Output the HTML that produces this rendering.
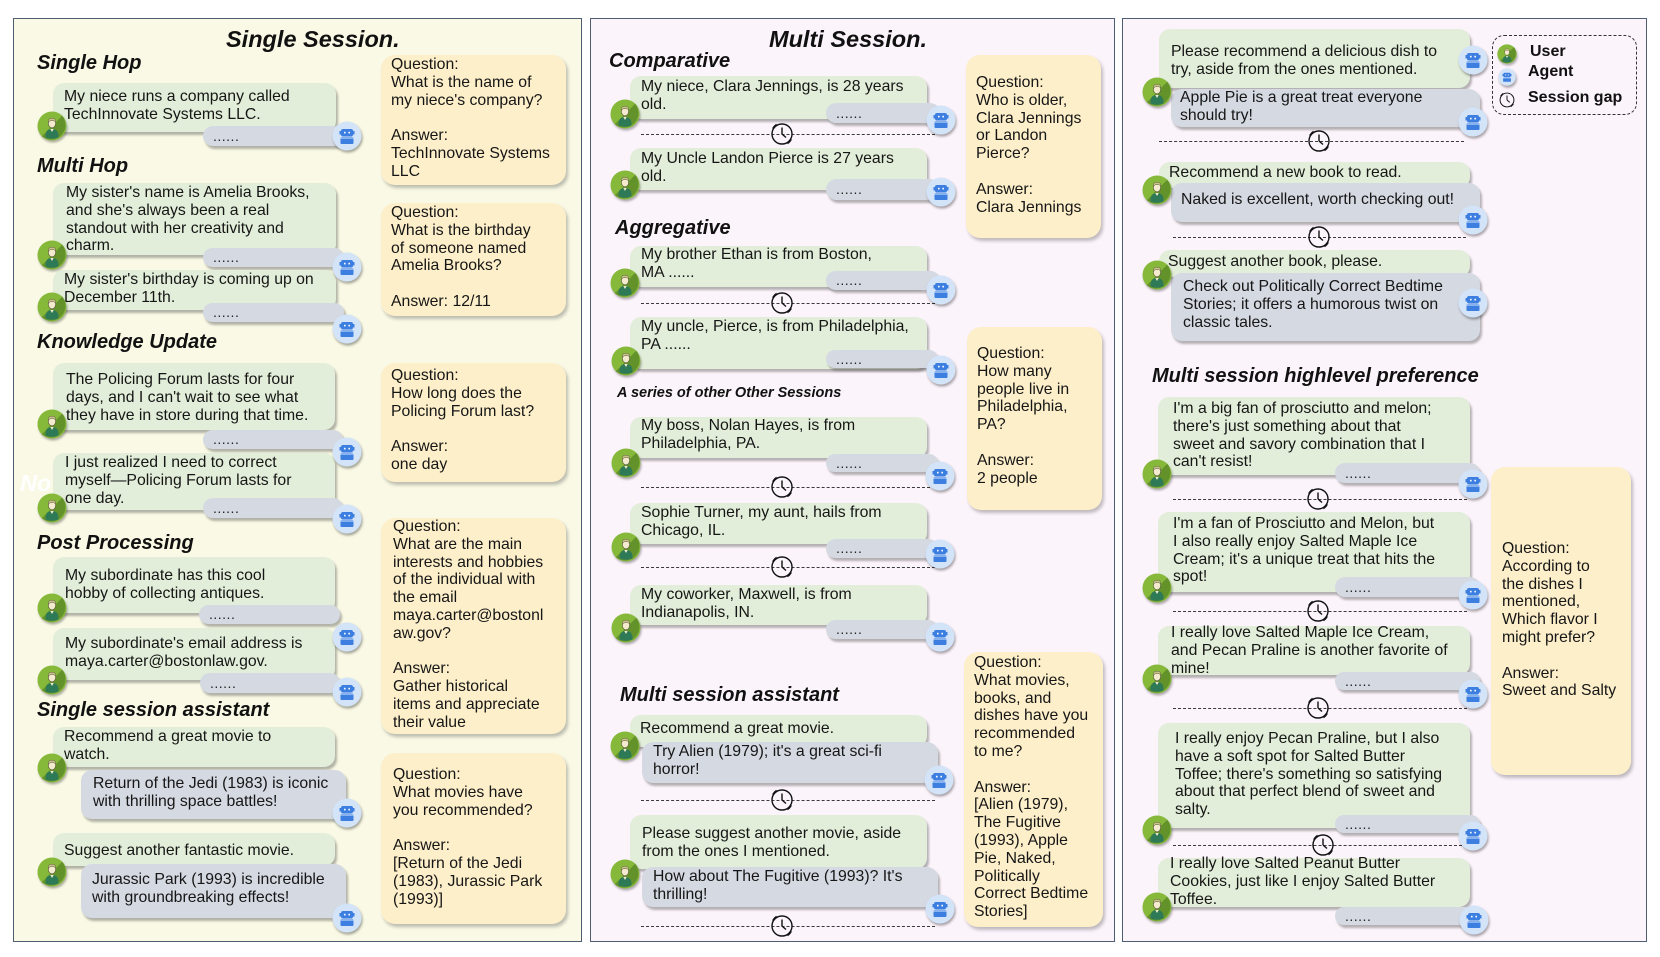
<!DOCTYPE html>
<html><head><meta charset="utf-8">
<style>
*{margin:0;padding:0;box-sizing:border-box}
html,body{width:1660px;height:957px;background:#fff;overflow:hidden;position:relative;font-family:"Liberation Sans",sans-serif}
.p{position:absolute;border:1.5px solid #4f5d72}
.p1{background:#f9f9e5}
.p2{background:#fcf4fb}
.b{position:absolute;border-radius:11px;box-shadow:2px 3px 2px rgba(80,80,80,.42)}
.u{background:#e2eed9}
.a{background:#d5d9e2;font-size:14px;padding-left:10px;color:#222;letter-spacing:.5px}
.q{position:absolute;background:#fdefca;border-radius:14px;box-shadow:2px 3px 3px rgba(80,80,80,.35)}
.t{position:absolute;font-size:15.8px;line-height:17.8px;white-space:nowrap;color:#161616}
.h{position:absolute;font-style:italic;font-weight:bold;font-size:20px;line-height:24px;white-space:nowrap;color:#111}
.ti{position:absolute;font-style:italic;font-weight:bold;font-size:23.5px;line-height:28px;white-space:nowrap;color:#111}
.av,.ag{position:absolute;width:30px;height:30px;overflow:visible}
.ag{filter:drop-shadow(1.5px 2px 1.2px rgba(0,0,0,.35))}
.av{filter:drop-shadow(1px 2px 1px rgba(0,0,0,.3))}
.ck{position:absolute;width:26px;height:26px;overflow:visible}
.dl{position:absolute;height:0;border-top:1.3px dashed #3a3a3a}
.lg{position:absolute;font-weight:bold;font-size:16px;line-height:20px;white-space:nowrap;color:#111}
</style></head><body>
<svg width="0" height="0" style="position:absolute">
<defs>
<symbol id="U" viewBox="0 0 30 30">
<circle cx="15" cy="15" r="14.5" fill="#86b83a"/>
<path d="M25.2 4.8 A14.5 14.5 0 0 1 4.8 25.2 L10 20 L20 10 Z" fill="#63922b"/>
<path d="M8.5 25 Q8.5 18 15 18 Q21.5 18 21.5 25 L21.5 26.5 Q15 29 8.5 26.5 Z" fill="#2f7a56"/>
<path d="M13.3 18 L15 21 L16.7 18 Z" fill="#f3ead0"/>
<ellipse cx="15" cy="12.5" rx="3.6" ry="4.3" fill="#f4ebcf" stroke="#5a5a3a" stroke-width=".6"/>
<path d="M11.2 11.5 Q11 7 15 7.2 Q19 7 18.8 11 Q17 9 15 9.6 Q13 9.2 11.2 11.5 Z" fill="#c9c38a" stroke="#5a5a3a" stroke-width=".5"/>
</symbol>
<symbol id="A" viewBox="0 0 30 30">
<circle cx="15" cy="15" r="14.5" fill="#d3e3f8"/>
<rect x="9" y="8" width="12" height="7.5" rx="2" fill="#3c7fe0"/>
<rect x="7.5" y="10" width="1.6" height="3.5" fill="#3c7fe0"/>
<rect x="20.9" y="10" width="1.6" height="3.5" fill="#3c7fe0"/>
<rect x="12" y="10.8" width="1.6" height="1.6" fill="#fff"/>
<rect x="16.4" y="10.8" width="1.6" height="1.6" fill="#fff"/>
<rect x="8.5" y="16.5" width="13" height="6.5" rx="1" fill="#3c7fe0"/>
<rect x="8.5" y="17" width="13" height=".8" fill="#9cc0f2"/>
</symbol>
<symbol id="C" viewBox="0 0 26 26">
<circle cx="13" cy="13" r="10" fill="none" stroke="#111" stroke-width="1.4"/>
<line x1="13" y1="13" x2="13" y2="6.5" stroke="#111" stroke-width="1.4"/>
<line x1="13" y1="13" x2="17" y2="16.5" stroke="#111" stroke-width="1.4"/>
<path d="M3.5 7.5 A11.5 11.5 0 0 1 7.5 3.2" fill="none" stroke="#111" stroke-width="1"/>
<path d="M5 6.5 A10.5 10.5 0 0 1 8 4" fill="none" stroke="#111" stroke-width=".8"/>
<path d="M22.5 18.5 A11.5 11.5 0 0 1 18.5 22.8" fill="none" stroke="#111" stroke-width="1"/>
<path d="M21 19.5 A10.5 10.5 0 0 1 18 22" fill="none" stroke="#111" stroke-width=".8"/>
</symbol>
</defs></svg>

<!-- Panels -->
<div class="p p1" style="left:13px;top:18px;width:569px;height:924px"></div>
<div class="p p2" style="left:590px;top:18px;width:525px;height:924px"></div>
<div class="p p2" style="left:1122px;top:18px;width:525px;height:924px"></div>

<!-- ================= PANEL 1 ================= -->
<div class="ti" style="left:226px;top:25px">Single Session.</div>
<div class="h" style="left:37px;top:51px">Single Hop</div>
<div class="h" style="left:37px;top:154px">Multi Hop</div>
<div class="h" style="left:37px;top:330px">Knowledge Update</div>
<div class="h" style="left:37px;top:531px">Post Processing</div>
<div class="h" style="left:37px;top:698px">Single session assistant</div>
<div class="ti" style="left:20px;top:469px;color:#fff">No</div>

<!-- SH -->
<div class="b u" style="left:53px;top:83px;width:283px;height:49px"></div>
<div class="t" style="left:64px;top:88px">My niece runs a company called<br>TechInnovate Systems LLC.</div>
<div class="b a" style="left:203px;top:126px;width:141px;height:20px;line-height:20px">......</div>
<!-- MH1 -->
<div class="b u" style="left:53px;top:183px;width:283px;height:72px"></div>
<div class="t" style="left:66px;top:184px">My sister's name is Amelia Brooks,<br>and she's always been a real<br>standout with her creativity and<br>charm.</div>
<div class="b a" style="left:203px;top:248px;width:141px;height:19px;line-height:19px">......</div>
<!-- MH2 -->
<div class="b u" style="left:53px;top:270px;width:283px;height:40px"></div>
<div class="t" style="left:64px;top:271px">My sister's birthday is coming up on<br>December 11th.</div>
<div class="b a" style="left:203px;top:303px;width:141px;height:19px;line-height:19px">......</div>
<!-- KU1 -->
<div class="b u" style="left:53px;top:363px;width:282px;height:67px"></div>
<div class="t" style="left:66px;top:371px">The Policing Forum lasts for four<br>days, and I can't wait to see what<br>they have in store during that time.</div>
<div class="b a" style="left:203px;top:430px;width:140px;height:19px;line-height:19px">......</div>
<!-- KU2 -->
<div class="b u" style="left:53px;top:453px;width:282px;height:57px"></div>
<div class="t" style="left:65px;top:454px">I just realized I need to correct<br>myself—Policing Forum lasts for<br>one day.</div>
<div class="b a" style="left:203px;top:498px;width:140px;height:20px;line-height:20px">......</div>
<!-- PP1 -->
<div class="b u" style="left:53px;top:557px;width:282px;height:56px"></div>
<div class="t" style="left:65px;top:567px">My subordinate has this cool<br>hobby of collecting antiques.</div>
<div class="b a" style="left:199px;top:605px;width:141px;height:19px;line-height:19px">......</div>
<!-- PP2 -->
<div class="b u" style="left:53px;top:628px;width:282px;height:52px"></div>
<div class="t" style="left:65px;top:635px">My subordinate's email address is<br>maya.carter@bostonlaw.gov.</div>
<div class="b a" style="left:200px;top:673px;width:140px;height:20px;line-height:20px">......</div>
<!-- SSA1 -->
<div class="b u" style="left:53px;top:727px;width:282px;height:40px"></div>
<div class="t" style="left:64px;top:728px">Recommend a great movie to<br>watch.</div>
<div class="b a" style="left:81px;top:770px;width:265px;height:49px"></div>
<div class="t" style="left:93px;top:775px">Return of the Jedi (1983) is iconic<br>with thrilling space battles!</div>
<!-- SSA2 -->
<div class="b u" style="left:53px;top:833px;width:282px;height:33px"></div>
<div class="t" style="left:64px;top:842px">Suggest another fantastic movie.</div>
<div class="b a" style="left:81px;top:864px;width:265px;height:54px"></div>
<div class="t" style="left:92px;top:871px">Jurassic Park (1993) is incredible<br>with groundbreaking effects!</div>

<!-- QA panel 1 -->
<div class="q" style="left:381px;top:55px;width:185px;height:130px"></div>
<div class="t" style="left:391px;top:56px">Question:<br>What is the name of<br>my niece's company?<br><br>Answer:<br>TechInnovate Systems<br>LLC</div>
<div class="q" style="left:381px;top:203px;width:185px;height:113px"></div>
<div class="t" style="left:391px;top:204px">Question:<br>What is the birthday<br>of someone named<br>Amelia Brooks?<br><br>Answer: 12/11</div>
<div class="q" style="left:381px;top:363px;width:185px;height:119px"></div>
<div class="t" style="left:391px;top:367px">Question:<br>How long does the<br>Policing Forum last?<br><br>Answer:<br>one day</div>
<div class="q" style="left:381px;top:518px;width:185px;height:216px"></div>
<div class="t" style="left:393px;top:518px">Question:<br>What are the main<br>interests and hobbies<br>of the individual with<br>the email<br>maya.carter@bostonl<br>aw.gov?<br><br>Answer:<br>Gather historical<br>items and appreciate<br>their value</div>
<div class="q" style="left:381px;top:753px;width:185px;height:171px"></div>
<div class="t" style="left:393px;top:766px">Question:<br>What movies have<br>you recommended?<br><br>Answer:<br>[Return of the Jedi<br>(1983), Jurassic Park<br>(1993)]</div>

<!-- ================= PANEL 2 ================= -->
<div class="ti" style="left:769px;top:25px">Multi Session.</div>
<div class="h" style="left:609px;top:49px">Comparative</div>
<div class="h" style="left:615px;top:216px">Aggregative</div>
<div class="h" style="left:620px;top:683px">Multi session assistant</div>
<div class="h" style="left:617px;top:384px;font-size:14.5px;line-height:18px">A series of other Other Sessions</div>

<!-- C1 -->
<div class="b u" style="left:630px;top:76px;width:297px;height:43px"></div>
<div class="t" style="left:641px;top:78px">My niece, Clara Jennings, is 28 years<br>old.</div>
<div class="b a" style="left:826px;top:103px;width:114px;height:20px;line-height:20px">......</div>
<div class="dl" style="left:641px;top:134px;width:294px"></div>
<!-- C2 -->
<div class="b u" style="left:630px;top:148px;width:297px;height:42px"></div>
<div class="t" style="left:641px;top:150px">My Uncle Landon Pierce is 27 years<br>old.</div>
<div class="b a" style="left:826px;top:179px;width:114px;height:21px;line-height:21px">......</div>
<!-- A1 -->
<div class="b u" style="left:630px;top:246px;width:297px;height:41px"></div>
<div class="t" style="left:641px;top:246px">My brother Ethan is from Boston,<br>MA ......</div>
<div class="b a" style="left:826px;top:271px;width:114px;height:19px;line-height:19px">......</div>
<div class="dl" style="left:641px;top:303px;width:294px"></div>
<!-- A2 -->
<div class="b u" style="left:630px;top:317px;width:297px;height:52px"></div>
<div class="t" style="left:641px;top:318px">My uncle, Pierce, is from Philadelphia,<br>PA ......</div>
<div class="b a" style="left:826px;top:350px;width:112px;height:18px;line-height:18px">......</div>
<!-- B1 -->
<div class="b u" style="left:630px;top:417px;width:297px;height:41px"></div>
<div class="t" style="left:641px;top:417px">My boss, Nolan Hayes, is from<br>Philadelphia, PA.</div>
<div class="b a" style="left:826px;top:454px;width:112px;height:18px;line-height:18px">......</div>
<div class="dl" style="left:641px;top:487px;width:294px"></div>
<!-- B2 -->
<div class="b u" style="left:630px;top:503px;width:297px;height:41px"></div>
<div class="t" style="left:641px;top:504px">Sophie Turner, my aunt, hails from<br>Chicago, IL.</div>
<div class="b a" style="left:826px;top:539px;width:112px;height:19px;line-height:19px">......</div>
<div class="dl" style="left:641px;top:567px;width:294px"></div>
<!-- B3 -->
<div class="b u" style="left:630px;top:585px;width:297px;height:40px"></div>
<div class="t" style="left:641px;top:586px">My coworker, Maxwell, is from<br>Indianapolis, IN.</div>
<div class="b a" style="left:826px;top:620px;width:112px;height:19px;line-height:19px">......</div>
<!-- MA1 -->
<div class="b u" style="left:630px;top:715px;width:297px;height:32px"></div>
<div class="t" style="left:640px;top:720px">Recommend a great movie.</div>
<div class="b a" style="left:642px;top:742px;width:296px;height:41px"></div>
<div class="t" style="left:653px;top:743px">Try Alien (1979); it's a great sci-fi<br>horror!</div>
<div class="dl" style="left:641px;top:800px;width:294px"></div>
<!-- MA2 -->
<div class="b u" style="left:630px;top:815px;width:297px;height:54px"></div>
<div class="t" style="left:642px;top:825px">Please suggest another movie, aside<br>from the ones I mentioned.</div>
<div class="b a" style="left:642px;top:867px;width:296px;height:40px"></div>
<div class="t" style="left:653px;top:868px">How about The Fugitive (1993)? It's<br>thrilling!</div>
<div class="dl" style="left:641px;top:926px;width:294px"></div>

<!-- QA panel 2 -->
<div class="q" style="left:966px;top:55px;width:135px;height:183px"></div>
<div class="t" style="left:976px;top:74px">Question:<br>Who is older,<br>Clara Jennings<br>or Landon<br>Pierce?<br><br>Answer:<br>Clara Jennings</div>
<div class="q" style="left:967px;top:327px;width:135px;height:183px"></div>
<div class="t" style="left:977px;top:345px">Question:<br>How many<br>people live in<br>Philadelphia,<br>PA?<br><br>Answer:<br>2 people</div>
<div class="q" style="left:964px;top:652px;width:139px;height:275px"></div>
<div class="t" style="left:974px;top:654px">Question:<br>What movies,<br>books, and<br>dishes have you<br>recommended<br>to me?<br><br>Answer:<br>[Alien (1979),<br>The Fugitive<br>(1993), Apple<br>Pie, Naked,<br>Politically<br>Correct Bedtime<br>Stories]</div>

<!-- ================= PANEL 3 ================= -->
<!-- T1 -->
<div class="b u" style="left:1159px;top:29px;width:311px;height:59px"></div>
<div class="t" style="left:1171px;top:43px">Please recommend a delicious dish to<br>try, aside from the ones mentioned.</div>
<div class="b a" style="left:1171px;top:89px;width:309px;height:38px"></div>
<div class="t" style="left:1180px;top:89px">Apple Pie is a great treat everyone<br>should try!</div>
<div class="dl" style="left:1159px;top:141px;width:305px"></div>
<!-- T2 -->
<div class="b u" style="left:1159px;top:162px;width:311px;height:26px"></div>
<div class="t" style="left:1169px;top:164px">Recommend a new book to read.</div>
<div class="b a" style="left:1171px;top:183px;width:309px;height:39px"></div>
<div class="t" style="left:1181px;top:191px">Naked is excellent, worth checking out!</div>
<div class="dl" style="left:1173px;top:237px;width:293px"></div>
<!-- T3 -->
<div class="b u" style="left:1159px;top:250px;width:311px;height:27px"></div>
<div class="t" style="left:1168px;top:253px">Suggest another book, please.</div>
<div class="b a" style="left:1171px;top:273px;width:309px;height:68px"></div>
<div class="t" style="left:1183px;top:278px">Check out Politically Correct Bedtime<br>Stories; it offers a humorous twist on<br>classic tales.</div>

<!-- Legend -->
<div style="position:absolute;left:1492px;top:35px;width:145px;height:80px;border:1.2px dashed #333;border-radius:12px"></div>
<svg class="av" style="left:1497px;top:44px;width:20px;height:20px"><use href="#U"/></svg>
<svg class="ag" style="left:1498px;top:68px;width:18px;height:18px"><use href="#A"/></svg>
<svg class="ck" style="left:1498px;top:91px;width:18px;height:18px"><use href="#C"/></svg>
<div class="lg" style="left:1530px;top:42px">User</div>
<div class="lg" style="left:1528px;top:62px">Agent</div>
<div class="lg" style="left:1528px;top:88px">Session gap</div>

<div class="h" style="left:1152px;top:364px">Multi session highlevel preference</div>
<!-- H1 -->
<div class="b u" style="left:1158px;top:397px;width:312px;height:78px"></div>
<div class="t" style="left:1173px;top:400px">I'm a big fan of prosciutto and melon;<br>there's just something about that<br>sweet and savory combination that I<br>can't resist!</div>
<div class="b a" style="left:1335px;top:463px;width:145px;height:20px;line-height:20px">......</div>
<div class="dl" style="left:1173px;top:499px;width:294px"></div>
<!-- H2 -->
<div class="b u" style="left:1158px;top:512px;width:312px;height:80px"></div>
<div class="t" style="left:1173px;top:515px">I'm a fan of Prosciutto and Melon, but<br>I also really enjoy Salted Maple Ice<br>Cream; it's a unique treat that hits the<br>spot!</div>
<div class="b a" style="left:1335px;top:577px;width:145px;height:20px;line-height:20px">......</div>
<div class="dl" style="left:1173px;top:611px;width:294px"></div>
<!-- H3 -->
<div class="b u" style="left:1158px;top:626px;width:312px;height:49px"></div>
<div class="t" style="left:1171px;top:624px">I really love Salted Maple Ice Cream,<br>and Pecan Praline is another favorite of<br>mine!</div>
<div class="b a" style="left:1335px;top:672px;width:145px;height:18px;line-height:18px">......</div>
<div class="dl" style="left:1173px;top:708px;width:294px"></div>
<!-- H4 -->
<div class="b u" style="left:1158px;top:723px;width:312px;height:105px"></div>
<div class="t" style="left:1175px;top:730px">I really enjoy Pecan Praline, but I also<br>have a soft spot for Salted Butter<br>Toffee; there's something so satisfying<br>about that perfect blend of sweet and<br>salty.</div>
<div class="b a" style="left:1335px;top:815px;width:145px;height:18px;line-height:18px">......</div>
<div class="dl" style="left:1173px;top:845px;width:294px"></div>
<!-- H5 -->
<div class="b u" style="left:1158px;top:858px;width:312px;height:49px"></div>
<div class="t" style="left:1170px;top:855px">I really love Salted Peanut Butter<br>Cookies, just like I enjoy Salted Butter<br>Toffee.</div>
<div class="b a" style="left:1335px;top:907px;width:145px;height:18px;line-height:18px">......</div>

<div class="q" style="left:1491px;top:467px;width:140px;height:308px"></div>
<div class="t" style="left:1502px;top:540px">Question:<br>According to<br>the dishes I<br>mentioned,<br>Which flavor I<br>might prefer?<br><br>Answer:<br>Sweet and Salty</div>

<!-- ================= CLOCKS ================= -->
<svg class="ck" style="left:769px;top:121px"><use href="#C"/></svg>
<svg class="ck" style="left:769px;top:290px"><use href="#C"/></svg>
<svg class="ck" style="left:769px;top:474px"><use href="#C"/></svg>
<svg class="ck" style="left:769px;top:554px"><use href="#C"/></svg>
<svg class="ck" style="left:769px;top:787px"><use href="#C"/></svg>
<svg class="ck" style="left:769px;top:913px"><use href="#C"/></svg>
<svg class="ck" style="left:1306px;top:128px"><use href="#C"/></svg>
<svg class="ck" style="left:1306px;top:224px"><use href="#C"/></svg>
<svg class="ck" style="left:1305px;top:486px"><use href="#C"/></svg>
<svg class="ck" style="left:1305px;top:598px"><use href="#C"/></svg>
<svg class="ck" style="left:1305px;top:695px"><use href="#C"/></svg>
<svg class="ck" style="left:1310px;top:832px"><use href="#C"/></svg>

<!-- ================= AVATARS ================= -->
<svg class="av" style="left:37px;top:111px"><use href="#U"/></svg>
<svg class="av" style="left:37px;top:240px"><use href="#U"/></svg>
<svg class="av" style="left:37px;top:292px"><use href="#U"/></svg>
<svg class="av" style="left:37px;top:409px"><use href="#U"/></svg>
<svg class="av" style="left:37px;top:493px"><use href="#U"/></svg>
<svg class="av" style="left:37px;top:593px"><use href="#U"/></svg>
<svg class="av" style="left:37px;top:665px"><use href="#U"/></svg>
<svg class="av" style="left:37px;top:753px"><use href="#U"/></svg>
<svg class="av" style="left:37px;top:857px"><use href="#U"/></svg>

<svg class="av" style="left:610px;top:99px"><use href="#U"/></svg>
<svg class="av" style="left:610px;top:170px"><use href="#U"/></svg>
<svg class="av" style="left:610px;top:268px"><use href="#U"/></svg>
<svg class="av" style="left:611px;top:346px"><use href="#U"/></svg>
<svg class="av" style="left:611px;top:448px"><use href="#U"/></svg>
<svg class="av" style="left:611px;top:532px"><use href="#U"/></svg>
<svg class="av" style="left:611px;top:613px"><use href="#U"/></svg>
<svg class="av" style="left:610px;top:731px"><use href="#U"/></svg>
<svg class="av" style="left:610px;top:859px"><use href="#U"/></svg>

<svg class="av" style="left:1142px;top:77px"><use href="#U"/></svg>
<svg class="av" style="left:1142px;top:175px"><use href="#U"/></svg>
<svg class="av" style="left:1142px;top:260px"><use href="#U"/></svg>
<svg class="av" style="left:1142px;top:459px"><use href="#U"/></svg>
<svg class="av" style="left:1142px;top:573px"><use href="#U"/></svg>
<svg class="av" style="left:1142px;top:664px"><use href="#U"/></svg>
<svg class="av" style="left:1142px;top:815px"><use href="#U"/></svg>
<svg class="av" style="left:1142px;top:892px"><use href="#U"/></svg>

<!-- ================= AGENT ICONS ================= -->
<svg class="ag" style="left:332px;top:121px"><use href="#A"/></svg>
<svg class="ag" style="left:332px;top:252px"><use href="#A"/></svg>
<svg class="ag" style="left:332px;top:314px"><use href="#A"/></svg>
<svg class="ag" style="left:332px;top:437px"><use href="#A"/></svg>
<svg class="ag" style="left:332px;top:504px"><use href="#A"/></svg>
<svg class="ag" style="left:332px;top:622px"><use href="#A"/></svg>
<svg class="ag" style="left:332px;top:677px"><use href="#A"/></svg>
<svg class="ag" style="left:332px;top:798px"><use href="#A"/></svg>
<svg class="ag" style="left:332px;top:903px"><use href="#A"/></svg>

<svg class="ag" style="left:926px;top:105px"><use href="#A"/></svg>
<svg class="ag" style="left:926px;top:177px"><use href="#A"/></svg>
<svg class="ag" style="left:926px;top:275px"><use href="#A"/></svg>
<svg class="ag" style="left:926px;top:355px"><use href="#A"/></svg>
<svg class="ag" style="left:925px;top:461px"><use href="#A"/></svg>
<svg class="ag" style="left:925px;top:539px"><use href="#A"/></svg>
<svg class="ag" style="left:925px;top:622px"><use href="#A"/></svg>
<svg class="ag" style="left:924px;top:765px"><use href="#A"/></svg>
<svg class="ag" style="left:925px;top:894px"><use href="#A"/></svg>

<svg class="ag" style="left:1458px;top:45px"><use href="#A"/></svg>
<svg class="ag" style="left:1458px;top:107px"><use href="#A"/></svg>
<svg class="ag" style="left:1458px;top:205px"><use href="#A"/></svg>
<svg class="ag" style="left:1458px;top:288px"><use href="#A"/></svg>
<svg class="ag" style="left:1458px;top:469px"><use href="#A"/></svg>
<svg class="ag" style="left:1458px;top:580px"><use href="#A"/></svg>
<svg class="ag" style="left:1458px;top:679px"><use href="#A"/></svg>
<svg class="ag" style="left:1458px;top:821px"><use href="#A"/></svg>
<svg class="ag" style="left:1459px;top:905px"><use href="#A"/></svg>

</body></html>
